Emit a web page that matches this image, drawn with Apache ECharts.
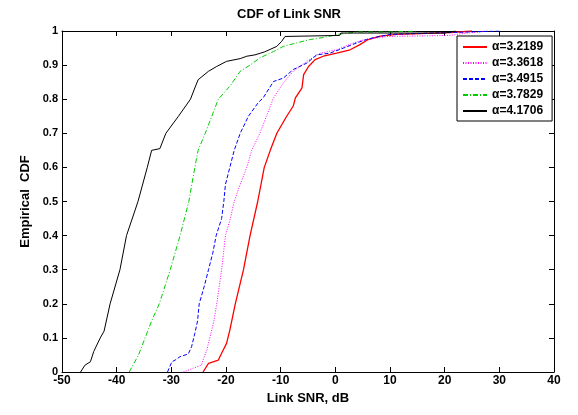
<!DOCTYPE html>
<html><head><meta charset="utf-8">
<script src="https://cdn.jsdelivr.net/npm/echarts@6/dist/echarts.min.js"></script>
<style>html,body{margin:0;padding:0;background:#fff}#c{width:578px;height:415px}</style>
</head><body><div id="c"></div>
<script>
const xTicks = [-50,-40,-30,-20,-10,0,10,20,30,40];
const yTicks = [0,0.1,0.2,0.3,0.4,0.5,0.6,0.7,0.8,0.9,1];
const seriesNames = ['\u03b1=3.2189','\u03b1=3.3618','\u03b1=3.4915','\u03b1=3.7829','\u03b1=4.1706'];

const snrRed = [-24.2,-23.2,-21.4,-20.8,-19.9,-19.3,-18.3,-16.8,-15.6,-14.2,-13.0,-11.9,-10.7,-8.9,-7.7,-7.3,-6.1,-5.8,-4.9,-3.7,-2.2,0.25,2.7,4.5,6.0,8.2,11.2,21,25];
const cdfRed = [0,0.025,0.035,0.055,0.084,0.123,0.2,0.3,0.4,0.5,0.6,0.65,0.7,0.75,0.78,0.804,0.833,0.872,0.896,0.916,0.926,0.935,0.945,0.96,0.975,0.985,0.99,0.995,1];

const snrMagenta = [-27.8,-26.0,-24.5,-24.2,-23.5,-22.9,-22.2,-21.7,-20.8,-20.1,-19.2,-18.5,-17.4,-16.2,-15.3,-13.8,-12.6,-11.3,-9.5,-7.7,-5.2,-2.8,0.25,3.3,5.4,9.4,21,23,28];
const cdfMagenta = [0,0.011,0.02,0.035,0.065,0.104,0.15,0.2,0.3,0.4,0.45,0.5,0.55,0.6,0.65,0.7,0.75,0.804,0.848,0.882,0.911,0.935,0.945,0.965,0.975,0.984,0.987,0.992,1];

const snrBlue = [-30.7,-29.9,-29.3,-28.4,-26.9,-26.3,-25.7,-25.2,-24.9,-24.0,-23.2,-22.4,-21.8,-20.8,-20.4,-20.1,-19.3,-18.5,-17.4,-15.9,-14.1,-13.2,-11.3,-9.5,-7.7,-5.2,-3.4,-1,1.5,3.9,5.7,6.9,10,20,30];
const cdfBlue = [0,0.03,0.035,0.045,0.053,0.074,0.113,0.15,0.2,0.25,0.3,0.35,0.4,0.45,0.5,0.55,0.6,0.65,0.7,0.75,0.79,0.804,0.852,0.862,0.887,0.906,0.93,0.935,0.95,0.965,0.975,0.98,0.99,0.995,1];

const snrGreen = [-37.7,-36.0,-34.8,-33.6,-32.2,-30.2,-29.3,-28.4,-26.8,-25.7,-25.1,-23.8,-22.6,-21.4,-19.3,-17.4,-15.6,-13.8,-11.3,-9.5,-7.1,-4.6,-2.2,0.85,3.9,10,15];
const cdfGreen = [0,0.05,0.1,0.15,0.2,0.3,0.35,0.4,0.5,0.6,0.65,0.7,0.75,0.8,0.838,0.882,0.9,0.921,0.94,0.955,0.965,0.975,0.981,0.991,0.997,0.997,1];

const snrBlack = [-46.6,-45.8,-44.8,-44.2,-43.0,-42.3,-41.2,-39.4,-38.2,-36.1,-34.4,-33.6,-32.1,-31.0,-28.7,-26.5,-25.7,-25.1,-23.2,-21.7,-19.9,-17.4,-16.2,-14.7,-12.9,-10.7,-9.8,-9.2,0.8,1,20,22];
const cdfBlack = [0,0.02,0.03,0.06,0.1,0.12,0.2,0.3,0.4,0.5,0.6,0.65,0.655,0.7,0.75,0.8,0.833,0.857,0.882,0.896,0.911,0.919,0.926,0.93,0.939,0.955,0.97,0.984,0.987,0.994,0.994,1];

function zip(xs, ys){ return xs.map((x,i)=>[x, ys[i]]); }

const F = 'Liberation Sans, Arial, sans-serif';
const chart = echarts.init(document.getElementById('c'), null, {renderer:'canvas'});
const axLine = {show:true, onZero:false, lineStyle:{color:'#000', width:1}};
const tick = {show:true, inside:true, length:5, lineStyle:{color:'#000'}};
const mk = (name, xs, ys, color, type, width) => ({
  name, type:'line', data: zip(xs, ys), showSymbol:false, symbol:'none', animation:false,
  lineStyle:{color, type, width}, itemStyle:{color}, xAxisIndex:0, yAxisIndex:0
});
chart.setOption({
  animation:false,
  backgroundColor:'#fff',
  title:{text:'CDF of Link SNR', left:'center', top:3, textStyle:{fontFamily:F, fontWeight:'bold', fontSize:13, color:'#000'}},
  grid:{left:62, right:24, top:31, bottom:43},
  legend:{
    orient:'vertical', left:457, top:36, padding:[5,9,4,5], itemGap:4,
    backgroundColor:'#fff', borderColor:'#000', borderWidth:1,
    itemWidth:24, itemHeight:12, itemStyle:{opacity:0},
    textStyle:{fontFamily:F, fontWeight:'bold', fontSize:12, color:'#000'},
    data: seriesNames
  },
  xAxis:[{
    type:'value', min:xTicks[0], max:xTicks[xTicks.length-1], interval:10,
    name:'Link SNR, dB', nameLocation:'middle', nameGap:19,
    nameTextStyle:{fontFamily:F, fontWeight:'bold', fontSize:13, color:'#000'},
    axisLine:axLine, axisTick:tick,
    axisLabel:{fontFamily:F, fontWeight:'bold', fontSize:12, color:'#000', margin:3},
    splitLine:{show:false}
  },{
    type:'value', position:'top', min:xTicks[0], max:xTicks[xTicks.length-1], interval:10,
    axisLine:axLine, axisTick:tick, axisLabel:{show:false}, splitLine:{show:false}
  }],
  yAxis:[{
    type:'value', min:0, max:1, interval:0.1,
    name:'Empirical  CDF', nameLocation:'middle', nameGap:22, nameRotate:90,
    nameTextStyle:{fontFamily:F, fontWeight:'bold', fontSize:13, color:'#000'},
    axisLine:axLine, axisTick:tick,
    axisLabel:{fontFamily:F, fontWeight:'bold', fontSize:11, color:'#000', margin:4,
      formatter:v=>String(Math.round(v*10)/10)},
    splitLine:{show:false}
  },{
    type:'value', position:'right', min:0, max:1, interval:0.1,
    axisLine:axLine, axisTick:tick, axisLabel:{show:false}, splitLine:{show:false}
  }],
  series:[
    mk(seriesNames[0], snrRed, cdfRed, '#ff0000', 'solid', 1.3),
    mk(seriesNames[1], snrMagenta, cdfMagenta, '#ff00ff', [1,1.5], 1),
    mk(seriesNames[2], snrBlue, cdfBlue, '#0000ff', [4,2], 1),
    mk(seriesNames[3], snrGreen, cdfGreen, '#00cc00', [5,2,1,2], 1),
    mk(seriesNames[4], snrBlack, cdfBlack, '#000000', 'solid', 1)
  ]
});
</script></body></html>
